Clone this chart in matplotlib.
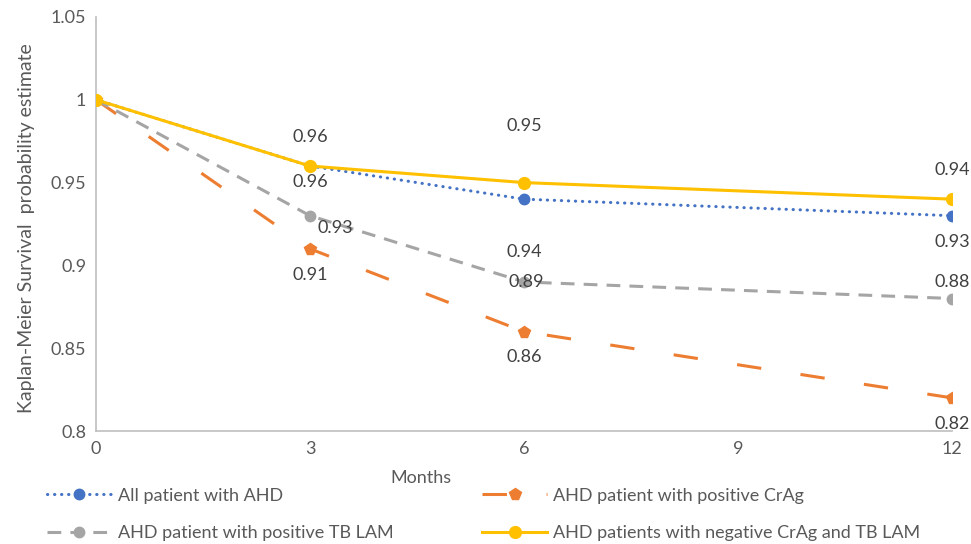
import matplotlib
matplotlib.use("Agg")
import matplotlib.pyplot as plt
from matplotlib.ticker import FuncFormatter

plt.rcParams['font.family'] = ['Lato', 'DejaVu Sans']

# данные
months = [0, 3, 6, 9, 12]
x_pts = [0, 3, 6, 12]
all_ahd = [1.00, 0.96, 0.94, 0.93]
crag_pos = [1.00, 0.91, 0.86, 0.82]
tblam_pos = [1.00, 0.93, 0.89, 0.88]
neg_both = [1.00, 0.96, 0.95, 0.94]

names = ['All patient with AHD',
         'AHD patient with positive CrAg',
         'AHD patient with positive TB LAM',
         'AHD patients with negative CrAg and TB LAM']

blue = '#4472C4'
orange = '#ED7D31'
gray = '#A5A5A5'
yellow = '#FFC000'
fs = 13

fig = plt.figure(figsize=(9.71, 5.44), dpi=100)
ax = fig.add_axes([0.0989, 0.2077, 0.8815, 0.7611])

l_blue, = ax.plot(x_pts, all_ahd, color=blue, lw=2.2, linestyle=(0, (0.1, 2.2)),
                  dash_capstyle='round', marker='o', ms=7.5, label=names[0], zorder=3)
l_orange, = ax.plot(x_pts, crag_pos, color=orange, lw=2.2, linestyle=(0, (8, 13)),
                    marker='p', ms=8.5, label=names[1], zorder=2)
l_gray, = ax.plot(x_pts, tblam_pos, color=gray, lw=2.2, linestyle=(0, (4.5, 3)),
                  marker='o', ms=7.5, label=names[2], zorder=2)
l_yellow, = ax.plot(x_pts, neg_both, color=yellow, lw=2.2, marker='o', ms=8.5,
                    label=names[3], zorder=4)

# подписи значений (смещение в пикселях: dx, dy вверх)
offsets = {
    'blue': [None, (0, -16), (0, -53), (0, -26)],
    'orange': [None, (0, -26), (0, -25), (0, -26)],
    'gray': [None, (25, -12), (2, 0), (0, 17)],
    'yellow': [None, (0, 29), (0, 57), (0, 29)],
}
series = {'blue': all_ahd, 'orange': crag_pos, 'gray': tblam_pos, 'yellow': neg_both}
for key, vals in series.items():
    for x, v, off in zip(x_pts, vals, offsets[key]):
        if off is None:
            continue
        ax.annotate(f'{v:g}', (x, v), xytext=(off[0] * 0.72, off[1] * 0.72),
                    textcoords='offset points', ha='center', va='center',
                    fontsize=fs, color='#404040', zorder=5)

ax.set_xlim(0, 12)
ax.set_ylim(0.8, 1.05)
ax.set_xticks(months)
ax.set_yticks([0.8, 0.85, 0.9, 0.95, 1.0, 1.05])
ax.yaxis.set_major_formatter(FuncFormatter(lambda v, p: f'{round(v, 2):g}'))
ax.tick_params(length=0, labelsize=fs, colors='#595959', pad=7)

for s in ['top', 'right']:
    ax.spines[s].set_visible(False)
for s in ['left', 'bottom']:
    ax.spines[s].set_color('#BFBFBF')
    ax.spines[s].set_linewidth(1.2)

ax.set_xlabel('Months', fontsize=fs, color='#595959')
ax.xaxis.set_label_coords(0.38, -0.095)
ax.set_ylabel('Kaplan-Meier Survival  probability estimate', fontsize=14, color='#595959')
ax.yaxis.set_label_coords(-0.071, 0.49)

leg = fig.legend(handles=[l_blue, l_gray, l_orange, l_yellow], ncol=2,
                 loc='center', bbox_to_anchor=(0.498, 0.054), frameon=False,
                 fontsize=fs, handlelength=3.6, columnspacing=4.9,
                 labelspacing=1.2, handletextpad=0.35)
for t in leg.get_texts():
    t.set_color('#595959')

fig.savefig('out.png', dpi=100)
